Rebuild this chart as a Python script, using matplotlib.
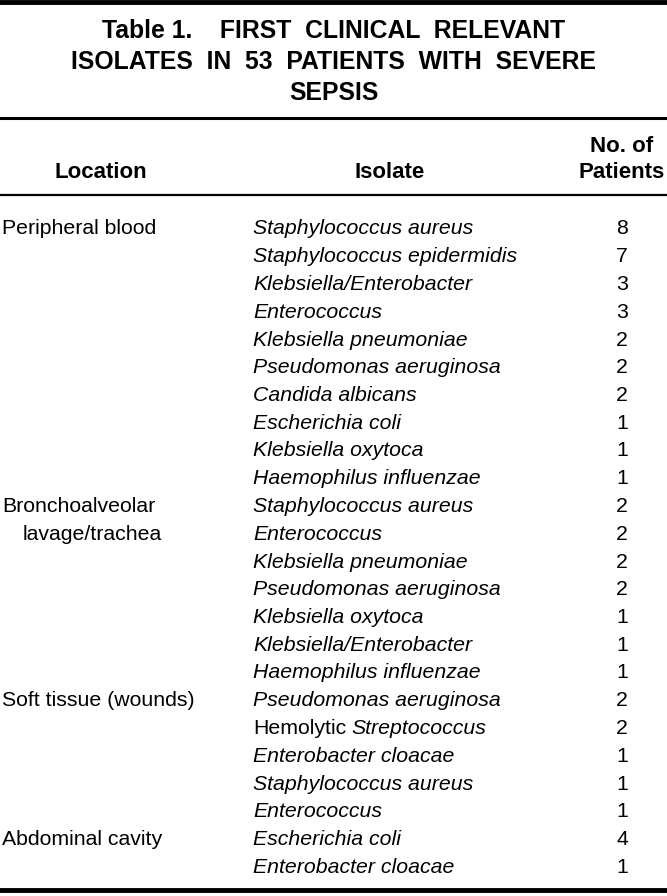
import matplotlib
matplotlib.use("Agg")
import matplotlib.pyplot as plt
from matplotlib import font_manager

# Données du tableau
group_names = ["Peripheral blood", "Bronchoalveolar", "Soft tissue (wounds)", "Abdominal cavity"]
group_sizes = [10, 7, 5, 2]
isolates = [
    "Staphylococcus aureus", "Staphylococcus epidermidis", "Klebsiella/Enterobacter",
    "Enterococcus", "Klebsiella pneumoniae", "Pseudomonas aeruginosa",
    "Candida albicans", "Escherichia coli", "Klebsiella oxytoca", "Haemophilus influenzae",
    "Staphylococcus aureus", "Enterococcus", "Klebsiella pneumoniae",
    "Pseudomonas aeruginosa", "Klebsiella oxytoca", "Klebsiella/Enterobacter",
    "Haemophilus influenzae",
    "Pseudomonas aeruginosa", "Hemolytic |Streptococcus", "Enterobacter cloacae",
    "Staphylococcus aureus", "Enterococcus",
    "Escherichia coli", "Enterobacter cloacae",
]
patients = [8, 7, 3, 3, 2, 2, 2, 1, 1, 1,
            2, 2, 2, 2, 1, 1, 1,
            2, 2, 1, 1, 1,
            4, 1]
title_lines = ["Table 1.    FIRST  CLINICAL  RELEVANT",
               "ISOLATES  IN  53  PATIENTS  WITH  SEVERE",
               "SEPSIS"]

available = {f.name for f in font_manager.fontManager.ttflist}
narrow = "Liberation Sans Narrow" if "Liberation Sans Narrow" in available else "Liberation Sans"
body = "Liberation Sans"
fs = 15.3

W, H = 667, 896
fig = plt.figure(figsize=(W / 100, H / 100), dpi=100)
ax = fig.add_axes([0, 0, 1, 1])
ax.set_xlim(0, W)
ax.set_ylim(H, 0)
ax.axis("off")

# Titre
for i, line in enumerate(title_lines):
    ax.text(W / 2, 31 + i * 31, line, ha="center", va="center",
            fontsize=17.8, fontweight="bold", family=narrow)

# Filets
ax.axhline(2, color="black", lw=3.5)
ax.axhline(118, color="black", lw=2.2)
ax.axhline(195, color="black", lw=1.6)
ax.axhline(890, color="black", lw=3.5)

# En-têtes
hdr = dict(fontsize=16, fontweight="bold", family=narrow, va="center", ha="center")
ax.text(101, 173, "Location", **hdr)
ax.text(390, 173, "Isolate", **hdr)
ax.text(622, 146, "No. of", **hdr)
ax.text(622, 173, "Patients", **hdr)

# Lignes
y0, dy = 229, 27.75
row = 0
for name, size in zip(group_names, group_sizes):
    ax.text(2, y0 + row * dy, name, ha="left", va="center", fontsize=fs, family=body)
    if name == "Bronchoalveolar":
        ax.text(23, y0 + (row + 1) * dy, "lavage/trachea", ha="left", va="center",
                fontsize=fs, family=body)
    row += size

for i, (iso, n) in enumerate(zip(isolates, patients)):
    y = y0 + i * dy
    if "|" in iso:
        plain, ital = iso.split("|")
        t = ax.text(253, y, plain.strip(), ha="left", va="center", fontsize=fs, family=body)
        ax.annotate(ital, xy=(1, 0.5), xycoords=t, xytext=(4, 0), textcoords="offset points",
                    ha="left", va="center", fontsize=fs, family=body, style="italic")
    else:
        ax.text(253, y, iso, ha="left", va="center", fontsize=fs, family=body, style="italic")
    ax.text(622, y, str(n), ha="center", va="center", fontsize=fs, family=body)

fig.savefig("out.png", dpi=100)
